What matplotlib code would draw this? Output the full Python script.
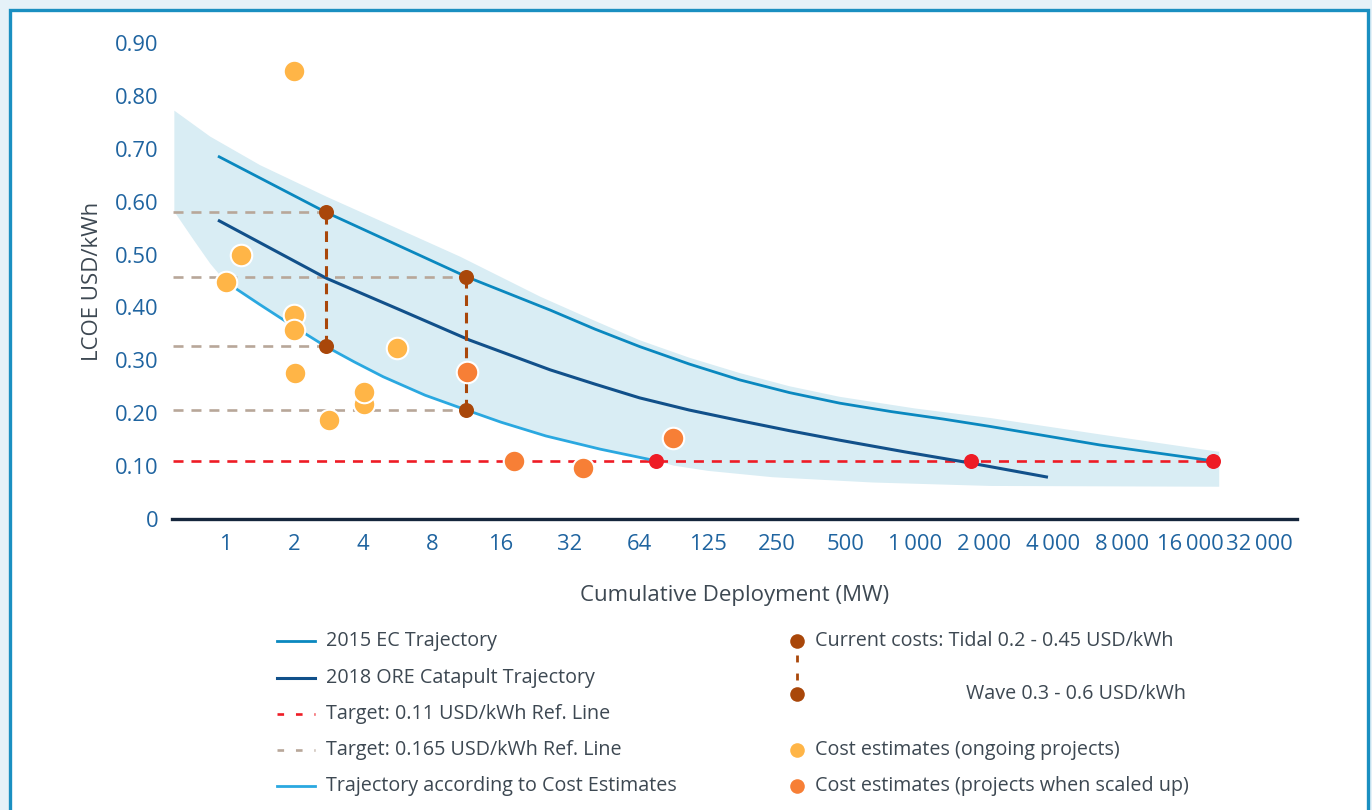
import numpy as np
import matplotlib
matplotlib.use("Agg")
import matplotlib.pyplot as plt
from matplotlib.patches import Rectangle

plt.rcParams['font.family'] = ['Open Sans', 'DejaVu Sans']

# cumulative deployment (MW) vs LCOE (USD/kWh)
ec_mw = [0.93, 2.75, 11.3, 26.2, 41.1, 64.4, 106, 176, 290, 481, 809, 1360, 2180, 6560, 20450]
ec_lcoe = [0.686, 0.580, 0.458, 0.395, 0.359, 0.326, 0.293, 0.263, 0.239, 0.219, 0.203,
           0.189, 0.175, 0.140, 0.110]

ore_mw = [0.93, 2.77, 5.82, 11.7, 26.2, 41.1, 64.4, 106, 176, 290, 481, 923, 1780, 3900]
ore_lcoe = [0.565, 0.455, 0.395, 0.338, 0.282, 0.255, 0.229, 0.206, 0.186, 0.167, 0.149,
            0.127, 0.106, 0.079]

est_mw = [1.0, 1.41, 1.99, 2.73, 3.66, 4.89, 7.46, 11.3, 16, 25.1, 43.4, 76]
est_lcoe = [0.449, 0.406, 0.364, 0.327, 0.297, 0.269, 0.234, 0.206, 0.183, 0.157, 0.132, 0.110]

# uncertainty band
band_hi_mw = [0.60, 0.86, 1.42, 2.78, 5.40, 10.6, 23.8, 39.4, 64.4, 106, 176, 290, 481, 1024,
              2180, 6560, 21800]
band_hi = [0.772, 0.723, 0.669, 0.609, 0.553, 0.496, 0.420, 0.378, 0.338, 0.305, 0.276, 0.251,
           0.231, 0.209, 0.191, 0.160, 0.127]
band_lo_mw = [0.60, 0.73, 0.86, 1.0, 1.41, 1.99, 3.66, 4.89, 7.46, 11.3, 16, 25.1, 43.4, 76,
              90.5, 128, 245, 671, 2180, 21800]
band_lo = [0.581, 0.527, 0.483, 0.449, 0.406, 0.364, 0.297, 0.269, 0.234, 0.206, 0.183, 0.157,
           0.132, 0.110, 0.101, 0.091, 0.079, 0.069, 0.0625, 0.061]

# current costs
wave_mw = 2.75
wave = [0.327, 0.580]
tidal_mw = 11.3
tidal = [0.206, 0.458]

target = 0.11
target_mw = [76, 1800, 20450]

ongoing_mw = [2.0, 1.17, 1.01, 2.0, 2.0, 2.02, 2.84, 4.04, 4.04, 5.63]
ongoing = [0.847, 0.499, 0.448, 0.386, 0.357, 0.276, 0.187, 0.217, 0.240, 0.323]
scaled_mw = [11.4, 18.2, 36.5, 90]
scaled = [0.278, 0.110, 0.096, 0.153]

x_ticks = [2 ** k for k in range(16)]
x_labels = ['1', '2', '4', '8', '16', '32', '64', '125', '250', '500',
            '1\u2009000', '2\u2009000', '4\u2009000', '8\u2009000', '16\u2009000', '32\u2009000']
y_ticks = [0, 0.1, 0.2, 0.3, 0.4, 0.5, 0.6, 0.7, 0.8, 0.9]
y_labels = ['0', '0.10', '0.20', '0.30', '0.40', '0.50', '0.60', '0.70', '0.80', '0.90']

# colours
c_ec = '#0a88bf'
c_ore = '#11508a'
c_est = '#2aa8e0'
c_band = '#d9edf4'
c_red = '#ee1c25'
c_tan = '#b8a799'
c_brown = '#a9470a'
c_yellow = '#ffb547'
c_orange = '#f77f36'
c_tick = '#1f64a0'
c_text = '#3d4852'

W, H = 1372, 810
fig = plt.figure(figsize=(W / 100, H / 100), dpi=100)
fig.patch.set_facecolor('#e5f1f8')

# background panel + legend drawn in pixel coordinates
bg = fig.add_axes([0, 0, 1, 1], zorder=-1)
bg.set_xlim(0, W)
bg.set_ylim(H, 0)
bg.axis('off')
bg.add_patch(Rectangle((9.5, 9.5), 1358, 900, facecolor='white', edgecolor='#1a8fc1', lw=2.4))

ax = fig.add_axes([172 / W, (H - 519) / H, 1125 / W, (519 - 16.5) / H])
ax.set_facecolor('none')
ax.set_xscale('log', base=2)
ax.set_xlim(0.586, 47640)
ax.set_ylim(0, 0.95)

# band
poly_x = band_hi_mw + band_lo_mw[::-1]
poly_y = band_hi + band_lo[::-1]
ax.fill(poly_x, poly_y, color=c_band, lw=0, zorder=1)

# reference lines
dash = (3.8, 3.0)
for v, xe in [(wave[1], wave_mw), (tidal[1], tidal_mw), (wave[0], wave_mw), (tidal[0], tidal_mw)]:
    ax.plot([0.59, xe], [v, v], color=c_tan, lw=1.9, dashes=dash, zorder=2)
ax.plot([0.59, target_mw[-1]], [target, target], color=c_red, lw=1.9, dashes=dash, zorder=2)

# trajectories
line_kw = dict(zorder=3, solid_capstyle='butt', solid_joinstyle='round')
ax.plot(ec_mw, ec_lcoe, color=c_ec, lw=2.0, **line_kw)
ax.plot(ore_mw, ore_lcoe, color=c_ore, lw=2.2, **line_kw)
ax.plot(est_mw, est_lcoe, color=c_est, lw=2.0, **line_kw)

# current cost ranges
for xm, vals in [(wave_mw, wave), (tidal_mw, tidal)]:
    ax.plot([xm, xm], vals, color=c_brown, lw=2.2, dashes=(3.5, 2.2), zorder=4)
    ax.plot([xm, xm], vals, 'o', color=c_brown, ms=10.8, mew=0, zorder=6)

ax.plot(target_mw, [target] * len(target_mw), 'o', color=c_red, ms=10.8, mew=0, zorder=6)

ax.scatter(ongoing_mw, ongoing, s=15.5 ** 2, color=c_yellow, edgecolors='white', linewidths=1.5, zorder=7)
ax.scatter(scaled_mw, scaled, s=15.5 ** 2, color=c_orange, edgecolors='white', linewidths=1.5, zorder=7)

# axes styling
for side in ['top', 'right', 'left']:
    ax.spines[side].set_visible(False)
ax.spines['bottom'].set_color('#15263c')
ax.spines['bottom'].set_linewidth(2.4)
ax.set_xticks(x_ticks)
ax.set_xticklabels(x_labels)
ax.xaxis.set_minor_locator(matplotlib.ticker.NullLocator())
ax.set_yticks(y_ticks)
ax.set_yticklabels(y_labels)
ax.tick_params(axis='both', length=0, labelsize=15.8, labelcolor=c_tick)
ax.tick_params(axis='x', pad=11)
ax.tick_params(axis='y', pad=10)

fig.text(92 / W, 1 - 281 / H, 'LCOE USD/kWh', rotation=90, ha='center', va='center',
         fontsize=16, color=c_text)
fig.text(735 / W, 1 - 595 / H, 'Cumulative Deployment (MW)', ha='center', va='center',
         fontsize=16, color=c_text)

# legend
fs = 14.2
rows = [641, 678, 714, 750, 786]
left = [
    ('2015 EC Trajectory', dict(color=c_ec, lw=2.0)),
    ('2018 ORE Catapult Trajectory', dict(color=c_ore, lw=2.2)),
    ('Target: 0.11 USD/kWh Ref. Line', dict(color=c_red, lw=1.9, dashes=(2.5, 4.5))),
    ('Target: 0.165 USD/kWh Ref. Line', dict(color=c_tan, lw=1.9, dashes=(2.5, 4.5))),
    ('Trajectory according to Cost Estimates', dict(color=c_est, lw=2.0)),
]
for y, (lab, kw) in zip(rows, left):
    bg.plot([277, 315], [y, y], **kw)
    bg.text(326, y, lab, ha='left', va='center', fontsize=fs, color=c_text)

bg.plot([797, 797], [655, 684], color=c_brown, lw=2.0, dashes=(2.5, 4.0))
bg.plot([797, 797], [641, 694], 'o', color=c_brown, ms=10.5, mew=0)
bg.text(815, 641, 'Current costs: Tidal 0.2 - 0.45 USD/kWh', ha='left', va='center',
        fontsize=fs, color=c_text)
bg.text(1186, 694, 'Wave 0.3 - 0.6 USD/kWh', ha='right', va='center',
        fontsize=fs, color=c_text)
bg.plot(797, 750, 'o', color=c_yellow, ms=10.5, mew=0)
bg.text(815, 750, 'Cost estimates (ongoing projects)', ha='left', va='center',
        fontsize=fs, color=c_text)
bg.plot(797, 786, 'o', color=c_orange, ms=10.5, mew=0)
bg.text(815, 786, 'Cost estimates (projects when scaled up)', ha='left', va='center',
        fontsize=fs, color=c_text)

fig.savefig('out.png', dpi=100, facecolor=fig.get_facecolor())
